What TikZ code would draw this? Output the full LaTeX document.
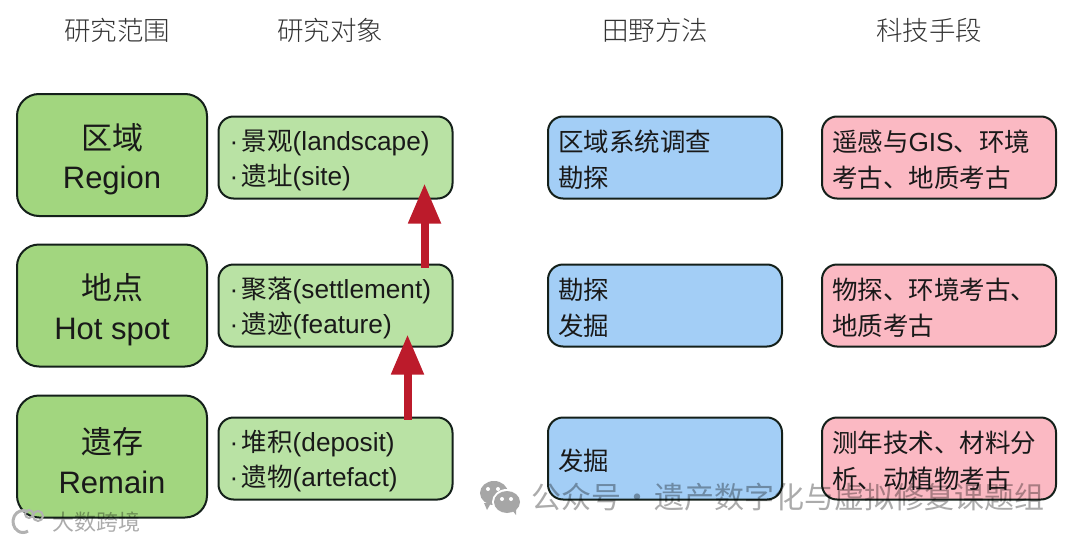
\documentclass[tikz,border=0pt]{standalone}
\usepackage{fontspec}
\setmainfont{Liberation Sans}
\newfontfamily\cjk{Noto Sans CJK SC}
\newfontfamily\cjklight{Noto Sans CJK SC Light}
\usetikzlibrary{positioning, arrows.meta}
\definecolor{rangegreen}{HTML}{A2D67F}
\definecolor{objgreen}{HTML}{B9E2A4}
\definecolor{fieldblue}{HTML}{A3CEF6}
\definecolor{techpink}{HTML}{FBB9C3}
\definecolor{arrowred}{HTML}{BC1B2B}
\definecolor{boxline}{HTML}{14201A}
\newcommand{\zh}[1]{\rule{0pt}{34pt}{\cjk #1}}
\newcommand{\zhs}[1]{{\cjk\fontsize{25.5}{35.5}\selectfont #1}}
\newcommand{\dotted}{·\hspace{3.5pt}}

\begin{document}
\begin{tikzpicture}[
    x=1pt, y=-1pt,
    base/.style={rectangle, draw=boxline, line width=2pt, text=black!90, align=left, inner sep=0pt},
    rangebox/.style={base, fill=rangegreen, rounded corners=22pt, minimum width=190pt, minimum height=122pt, align=center, font=\fontsize{31}{39.5}\selectfont},
    smallbox/.style={base, rounded corners=15pt, minimum width=234pt, minimum height=82pt, text width=214pt, font=\fontsize{26.2}{35.5}\selectfont, execute at begin node={\lineskiplimit=-100pt\rule{0pt}{26pt}}},
    objbox/.style={smallbox, fill=objgreen, text width=212pt},
    fieldbox/.style={smallbox, fill=fieldblue},
    techbox/.style={smallbox, fill=techpink},
    head/.style={font=\cjklight\fontsize{26.5}{30}\selectfont, text=black!80, inner sep=0pt},
    arrow/.style={-{Triangle[length=40pt, width=31pt]}, arrowred, line width=8pt},
    wmark/.style={text=black, text opacity=0.33, inner sep=0pt}
]
\useasboundingbox (0,0) rectangle (1080,541);

% 研究范围
\node[rangebox] (region) at (112,155) {\zh{区域}\\Region};
\node[rangebox] (hotspot) at (112,305.5) {\zh{地点}\\Hot spot};
\node[rangebox] (remain) at (112,456.5) {\zh{遗存}\\Remain};

% 研究对象
\node[objbox] (landscape) at (335.5,157.5) {\dotted\zhs{景观}(landscape)\\\dotted\zhs{遗址}(site)};
\node[objbox, below=64pt of landscape] (settlement) {\dotted\zhs{聚落}(settlement)\\\dotted\zhs{遗迹}(feature)};
\node[objbox, below=69pt of settlement] (deposit) {\dotted\zhs{堆积}(deposit)\\\dotted\zhs{遗物}(artefact)};

% 田野方法
\node[fieldbox, right=93.5pt of landscape] (survey) {\zhs{区域系统调查}\\\zhs{勘探}};
\node[fieldbox, right=93.5pt of settlement] (prospect) {\zhs{勘探}\\\zhs{发掘}};
\node[fieldbox, right=93.5pt of deposit] (excavate) {\zhs{发掘}};

% 科技手段
\node[techbox, right=38pt of survey] (remote) {\zhs{遥感与}GIS\zhs{、环境}\\\zhs{考古、地质考古}};
\node[techbox, right=38pt of prospect] (geophys) {\zhs{物探、环境考古、}\\\zhs{地质考古}};
\node[techbox, right=38pt of excavate] (dating) {\zhs{测年技术、材料分}\\\zhs{析、动植物考古}};

% 表头
\node[head] (headrange) at (117,30) {研究范围};
\node[head] (headobj) at (330,30) {研究对象};
\node[head] (headfield) at (655,30) {田野方法};
\node[head] (headtech) at (929,30) {科技手段};

% 箭头
\coordinate (tipup) at ([xshift=-29pt,yshift=16pt]landscape.south east);
\coordinate (tailup) at (tipup |- settlement.north);
\coordinate (tipdown) at ([xshift=-46pt,yshift=13pt]settlement.south east);
\coordinate (taildown) at (tipdown |- deposit.north);
\draw[arrow] ([yshift=-4pt]tailup) -- (tipup);
\draw[arrow] ([yshift=-3pt]taildown) -- (tipdown);

% 水印
\node[wmark, font=\cjk\fontsize{30}{32}\selectfont, anchor=west] (account) at (531,497) {公众号\hspace{1.5pt}·\hspace{1.5pt}遗产数字化与虚拟修复课题组};
\node[wmark, font=\cjk\fontsize{22}{26}\selectfont, anchor=west] (bigdata) at (52,522) {大数跨境};
\fill[black!35] (494,493) ellipse (14pt and 12pt);
\fill[black!35] (484,503) -- (487,510) -- (491,503) -- cycle;
\fill[white] (507,502) ellipse (15pt and 13pt);
\fill[black!35] (507,502) ellipse (13pt and 11pt);
\fill[black!35] (512,510) -- (516,515) -- (516,506) -- cycle;
\foreach \x/\y in {488/489, 498/489, 502/499, 511/499} \fill[white] (\x,\y) circle (2pt);
\draw[black!30, line width=3pt] (28,512) arc (60:300:10pt and 11pt);
\draw[black!30, line width=2pt] (38,516) circle (5pt);
\draw[black!30, line width=2pt] (29,514) circle (4pt);
\end{tikzpicture}
\end{document}
